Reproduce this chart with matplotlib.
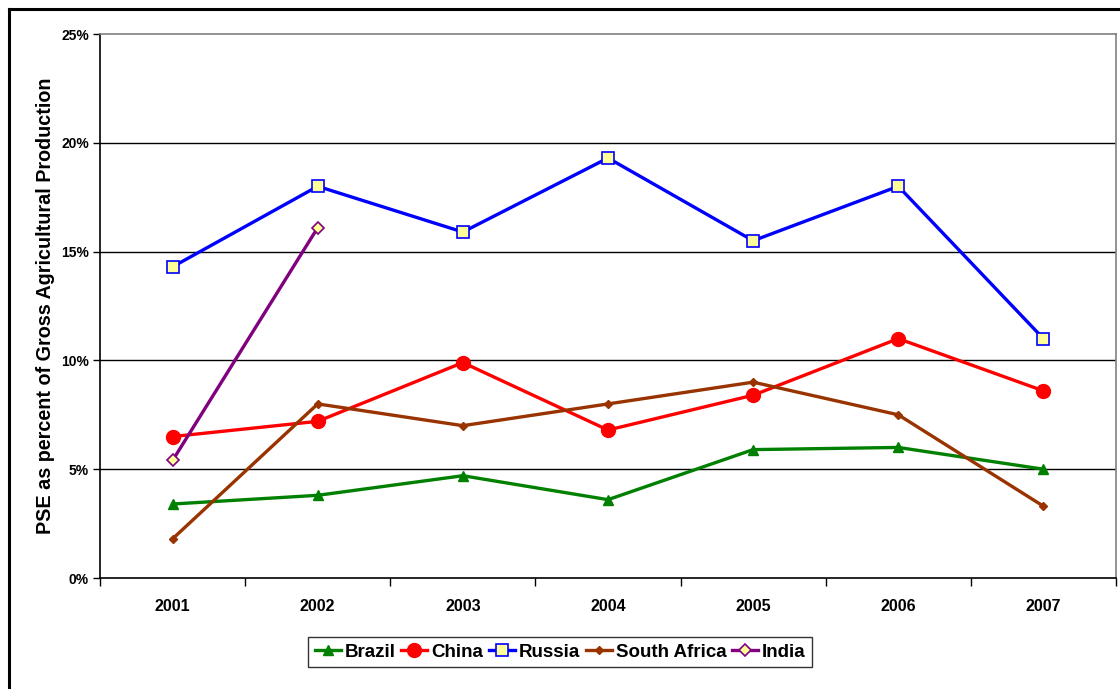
import matplotlib.pyplot as plt
from matplotlib.ticker import FuncFormatter, FixedLocator

plt.rcParams["font.family"] = ["Liberation Sans", "DejaVu Sans"]
plt.rcParams["font.weight"] = "bold"

years = ["2001", "2002", "2003", "2004", "2005", "2006", "2007"]
brazil = [3.4, 3.8, 4.7, 3.6, 5.9, 6.0, 5.0]
china = [6.5, 7.2, 9.9, 6.8, 8.4, 11.0, 8.6]
russia = [14.3, 18.0, 15.9, 19.3, 15.5, 18.0, 11.0]
south_africa = [1.8, 8.0, 7.0, 8.0, 9.0, 7.5, 3.3]
india = [5.4, 16.1]

fig = plt.figure(figsize=(11.2, 6.89), dpi=100)
ax = fig.add_axes([100 / 1120, 111 / 689, 1016 / 1120, 544 / 689])

x = list(range(len(years)))
ax.plot(x, brazil, color="#008000", lw=2.4, marker="^", ms=7.5, label="Brazil")
ax.plot(x, china, color="#ff0000", lw=2.4, marker="o", ms=10, label="China")
ax.plot(x, russia, color="#0000ff", lw=2.4, marker="s", ms=8,
        mfc="#ffff99", mec="#0000ff", mew=1.2, label="Russia")
ax.plot(x, south_africa, color="#993300", lw=2.4, marker="D", ms=4.5,
        label="South Africa")
ax.plot(x[:len(india)], india, color="#800080", lw=2.4, marker="D", ms=6,
        mfc="#ffff99", mec="#800080", mew=1.2, label="India")

ax.set_xlim(-0.5, len(years) - 0.5)
ax.set_ylim(0, 25)
ax.set_yticks([0, 5, 10, 15, 20, 25])
ax.yaxis.set_major_formatter(FuncFormatter(lambda v, _: f"{int(v)}%"))
ax.set_xticks(x)
ax.set_xticklabels(years, fontsize=11.5, fontweight="bold")
ax.xaxis.set_minor_locator(FixedLocator([i - 0.5 for i in range(len(years) + 1)]))
ax.tick_params(axis="x", which="major", length=0, pad=15)
ax.tick_params(axis="x", which="minor", length=6, width=1, direction="out")
ax.tick_params(axis="y", length=5, width=1, direction="out", labelsize=10, pad=3)
for lab in ax.get_yticklabels():
    lab.set_fontweight("bold")

for y in [5, 10, 15, 20]:
    ax.axhline(y, color="black", lw=1, zorder=0)
ax.spines["left"].set_color("black")
ax.spines["bottom"].set_color("black")
ax.spines["top"].set_color("#808080")
ax.spines["right"].set_color("#808080")
for s in ax.spines.values():
    s.set_linewidth(1.2)

ax.set_ylabel("PSE as percent of Gross Agricultural Production",
              fontsize=14.2, fontweight="bold", labelpad=4)

leg = fig.legend(loc="center", bbox_to_anchor=(560 / 1120, 1 - 652 / 689),
                 ncol=5, fontsize=13.5, frameon=True, fancybox=False,
                 handlelength=1.4, handletextpad=0.2, columnspacing=0.3,
                 borderpad=0.35, borderaxespad=0)
leg.get_frame().set_edgecolor("black")
leg.get_frame().set_linewidth(1)
for t in leg.get_texts():
    t.set_fontweight("bold")

# outer chart border
fig.add_artist(plt.Line2D([9 / 1120, 9 / 1120], [0, 1 - 9 / 689],
                          transform=fig.transFigure, color="black", lw=2.2))
fig.add_artist(plt.Line2D([9 / 1120, 1], [1 - 9 / 689, 1 - 9 / 689],
                          transform=fig.transFigure, color="black", lw=2.2))

fig.savefig("out.png", dpi=100)
